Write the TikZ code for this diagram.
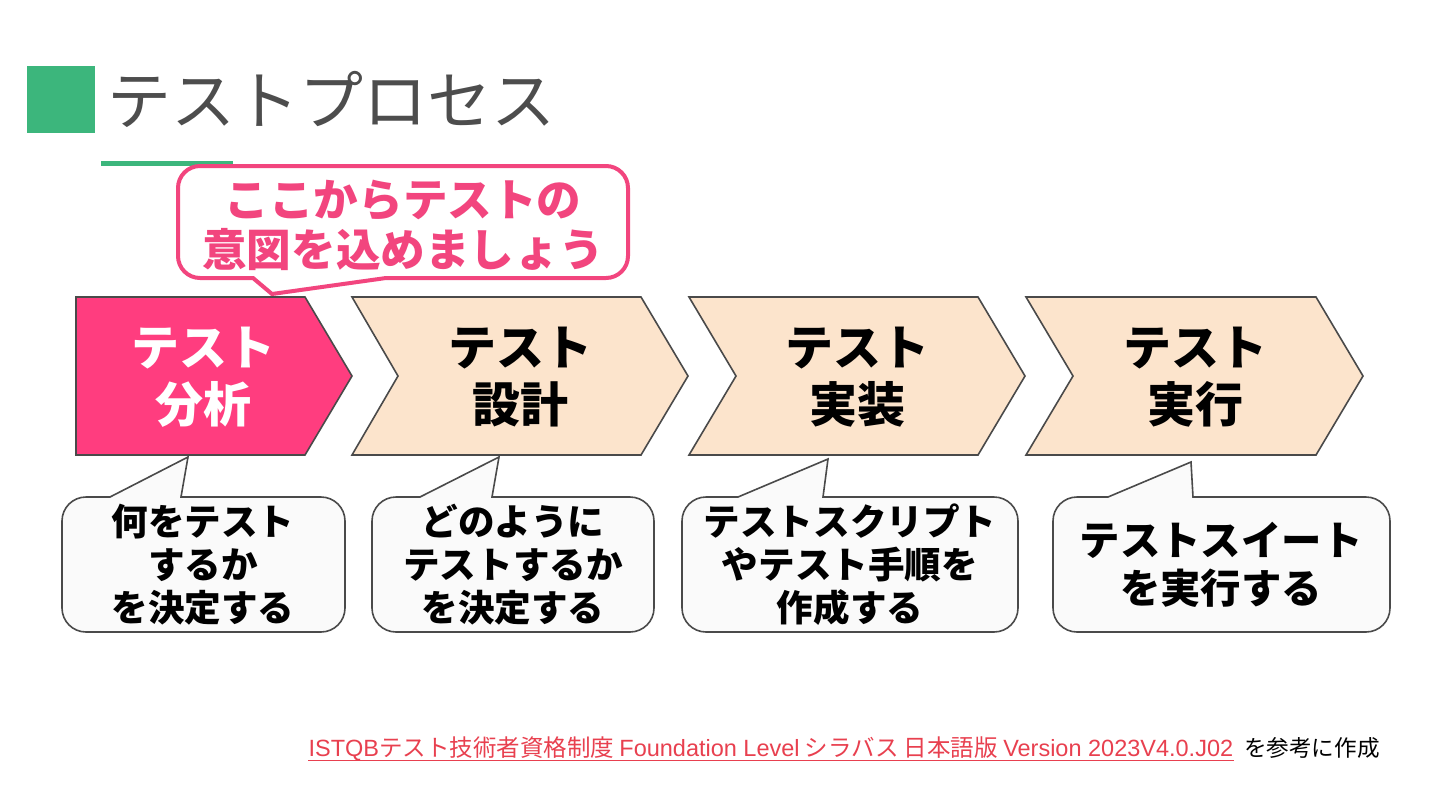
\documentclass[tikz,border=0pt]{standalone}
\usepackage{fontspec}
\setmainfont{Noto Sans CJK JP}
\newfontfamily\latinfont{Liberation Sans}
\usepackage{xcolor}
\usepackage{tikz}
\usetikzlibrary{positioning}

\definecolor{accentgreen}{HTML}{3CB67C}
\definecolor{hotpink}{HTML}{FF3D7F}
\definecolor{notepink}{HTML}{F2457E}
\definecolor{stepbeige}{HTML}{FCE4CC}
\definecolor{edgegray}{HTML}{4A4A4A}
\definecolor{titlegray}{HTML}{4D4D4D}
\definecolor{notefill}{HTML}{FAFAFA}
\definecolor{linkred}{HTML}{E8404F}

\newcommand{\eng}[1]{{\latinfont #1}}

\tikzset{
  stepshape/.style={draw=edgegray, line width=0.8pt, line join=miter},
  steplabel/.style={align=center, font=\fontsize{24}{28.5}\selectfont\bfseries},
  notebox/.style={draw=edgegray, line width=0.8pt, fill=notefill},
  notelabel/.style={align=center, font=\fontsize{18.3}{21.5}\selectfont\bfseries},
  footnote/.style={font=\fontsize{11.3}{13}\selectfont, inner sep=0pt},
}

\begin{document}
\begin{tikzpicture}[x=0.5pt, y=-0.5pt]
\useasboundingbox (0,0) rectangle (1440,810);

% heading
\fill[accentgreen] (27,66) rectangle (95,133);
\node[anchor=west, text=titlegray, font=\fontsize{32}{40}\selectfont] (title) at (100,99) {テストプロセス};
\draw[accentgreen, line width=2.5pt] (101,163) -- (233,163);

% the four steps
\draw[stepshape, fill=hotpink] (76,297) -- (305,297) -- (352,376) -- (305,455) -- (76,455) -- cycle;
\draw[stepshape, fill=stepbeige] (352,297) -- (641,297) -- (688,376) -- (641,455) -- (352,455) -- (398,376) -- cycle;
\draw[stepshape, fill=stepbeige] (689,297) -- (978,297) -- (1025,376) -- (978,455) -- (689,455) -- (736,376) -- cycle;
\draw[stepshape, fill=stepbeige] (1026,297) -- (1316,297) -- (1363,376) -- (1316,455) -- (1026,455) -- (1073,376) -- cycle;
\node[steplabel, text=white] (analysis) at (203,377) {テスト\\分析};
\node[steplabel] (design) at (520,377) {テスト\\設計};
\node[steplabel] (build) at (857,377) {テスト\\実装};
\node[steplabel] (run) at (1195,377) {テスト\\実行};

% pink speech bubble
\draw[notepink, line width=2pt, fill=white] (386,278) -- (272,294) -- (253,278)
  {[rounded corners=11pt] -- (178,278) -- (178,166) -- (628,166) -- (628,278)} -- cycle;
\node[align=center, text=notepink, font=\fontsize{22.3}{25}\selectfont\bfseries] (intent) at (403,225) {ここからテストの\\意図を込めましょう};

% notes under the steps
\draw[notebox] (181,497) -- (188,457) -- (110,497)
  {[rounded corners=12pt] -- (62,497) -- (62,632) -- (345,632) -- (345,497)} -- cycle;
\draw[notebox] (492,497) -- (499,457) -- (420,497)
  {[rounded corners=12pt] -- (372,497) -- (372,632) -- (654,632) -- (654,497)} -- cycle;
\draw[notebox] (823,497) -- (828,459) -- (738,497)
  {[rounded corners=12pt] -- (682,497) -- (682,632) -- (1018,632) -- (1018,497)} -- cycle;
\draw[notebox] (1193,497) -- (1191,462) -- (1108,497)
  {[rounded corners=12pt] -- (1053,497) -- (1053,632) -- (1390,632) -- (1390,497)} -- cycle;
\node[notelabel] (whatnote) at (203,565) {何をテスト\\するか\\を決定する};
\node[notelabel] (hownote) at (513,565) {どのように\\テストするか\\を決定する};
\node[notelabel] (buildnote) at (850,565) {テストスクリプト\\やテスト手順を\\作成する};
\node[notelabel, font=\fontsize{20.2}{24}\selectfont\bfseries] (runnote) at (1221,565) {テストスイート\\を実行する};

% source
\node[footnote, anchor=base east] (suffix) at (1380,756) {を参考に作成};
\node[footnote, font=\fontsize{11.75}{13}\selectfont, text=linkred, base left=5pt of suffix] (source)
  {\eng{ISTQB}テスト技術者資格制度 \eng{Foundation Level} シラバス 日本語版 \eng{Version 2023V4.0.J02}};
\draw[linkred, line width=0.9pt] ([yshift=-2.2pt]source.base west) -- ([yshift=-2.2pt]source.base east);
\end{tikzpicture}
\end{document}
